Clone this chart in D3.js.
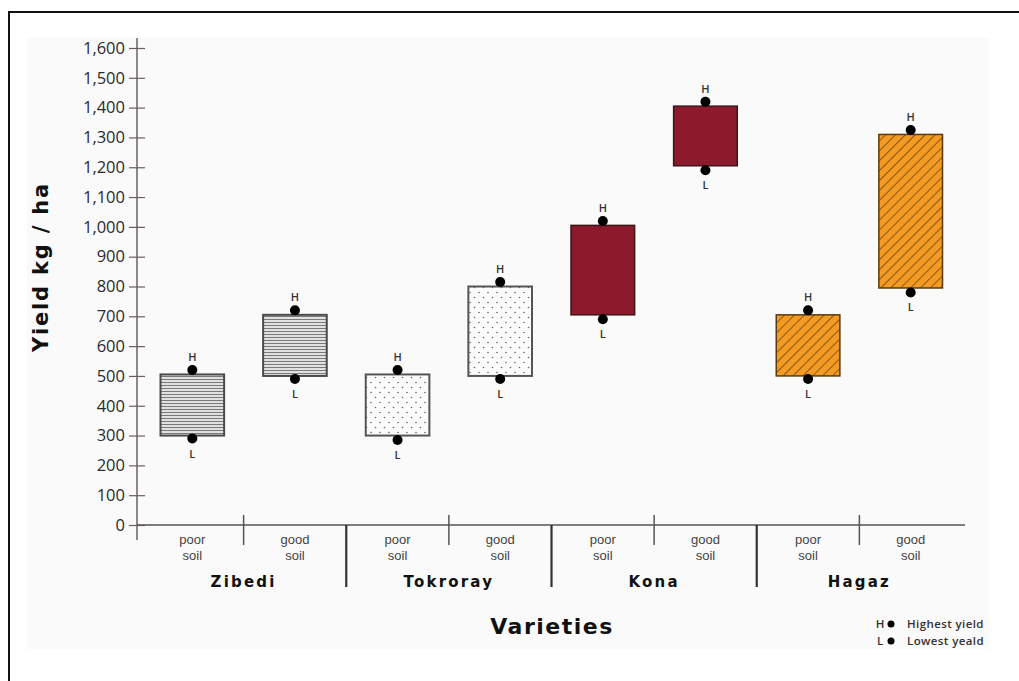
<!DOCTYPE html>
<html><head><meta charset="utf-8">
<script src="https://cdn.jsdelivr.net/npm/d3@7"></script>
<style>body{margin:0;background:#fff}svg{display:block}</style>
</head><body>
<svg id="c" width="1019" height="681"></svg>
<script>
const varieties = ["Zibedi","Tokroray","Kona","Hagaz"];
const soils = ["poor","good"];
const boxLow   = [300, 500, 300, 500, 705, 1205, 500, 795];
const boxHigh  = [505, 705, 505, 800, 1005, 1405, 705, 1310];
const highYield = [520, 720, 520, 815, 1020, 1420, 720, 1325];
const lowYield  = [290, 490, 285, 490, 690, 1190, 490, 780];
const yTicks = d3.range(0, 1601, 100);

const svg = d3.select("#c");
svg.append("rect").attr("x",9).attr("y",12).attr("width",1040).attr("height",700)
  .attr("fill","#fff").attr("stroke","#111").attr("stroke-width",2);
svg.append("rect").attr("x",27).attr("y",38).attr("width",963).attr("height",611).attr("fill","#fafafa");

const defs = svg.append("defs");
const p1 = defs.append("pattern").attr("id","stripes").attr("patternUnits","userSpaceOnUse").attr("width",6).attr("height",3);
p1.append("rect").attr("width",6).attr("height",3).attr("fill","#f4f4f4");
p1.append("line").attr("x1",0).attr("x2",6).attr("y1",1.5).attr("y2",1.5).attr("stroke","#7a7a7a").attr("stroke-width",1.3);
const p2 = defs.append("pattern").attr("id","dots").attr("patternUnits","userSpaceOnUse").attr("width",9).attr("height",10);
p2.append("rect").attr("width",9).attr("height",10).attr("fill","#fbfbfb");
p2.append("circle").attr("cx",2).attr("cy",2.5).attr("r",0.8).attr("fill","#666");
p2.append("circle").attr("cx",6.5).attr("cy",7.5).attr("r",0.8).attr("fill","#666");
const p3 = defs.append("pattern").attr("id","hatch").attr("patternUnits","userSpaceOnUse").attr("width",7).attr("height",7)
  .attr("patternTransform","rotate(45)");
p3.append("rect").attr("width",7).attr("height",7).attr("fill","#f39a22");
p3.append("line").attr("x1",0).attr("x2",0).attr("y1",0).attr("y2",7).attr("stroke","#5a3a12").attr("stroke-width",1.4);

const fills = {Zibedi:"url(#stripes)", Tokroray:"url(#dots)", Kona:"#8c1a2c", Hagaz:"url(#hatch)"};
const strokes = {Zibedi:"#4a4a4a", Tokroray:"#555", Kona:"#3d1518", Hagaz:"#5a3a12"};

const data = [];
varieties.forEach((v,i)=>soils.forEach((s,j)=>{
  const k=i*2+j;
  data.push({key:v+"-"+s, variety:v, soil:s, lo:boxLow[k], hi:boxHigh[k], H:highYield[k], L:lowYield[k]});
}));

const y = d3.scaleLinear().domain([0,1600]).range([525,48]);
const x = d3.scaleBand().domain(data.map(d=>d.key)).range([141,962]).paddingInner(0);
const bw = x.bandwidth()*0.62;

const ya = svg.append("g").attr("transform","translate(137,0)")
  .call(d3.axisLeft(y).tickValues(yTicks).tickFormat(d3.format(",")).tickSize(8).tickPadding(4));
ya.select(".domain").remove();
ya.selectAll(".tick line").attr("x1",8).attr("stroke","#6b5f5f").attr("stroke-width",1.2);
ya.selectAll(".tick text").attr("font-family","'Open Sans', sans-serif").attr("font-size",16.5).attr("fill","#2a2a2a");
svg.append("line").attr("x1",137).attr("x2",137).attr("y1",y(1600)-10).attr("y2",y(0)+15)
  .attr("stroke","#6b5f5f").attr("stroke-width",1.5);

svg.append("line").attr("x1",137).attr("x2",965).attr("y1",y(0)).attr("y2",y(0)).attr("stroke","#555").attr("stroke-width",1.5);
data.forEach((d,i)=>{
  if(i===0) return;
  const xx = x(d.key);
  if(d.soil==="good"){
    svg.append("line").attr("x1",xx).attr("x2",xx).attr("y1",y(0)-10).attr("y2",y(0)+20).attr("stroke","#555").attr("stroke-width",1.5);
  } else {
    svg.append("line").attr("x1",xx).attr("x2",xx).attr("y1",y(0)).attr("y2",y(0)+62).attr("stroke","#333").attr("stroke-width",2.2);
  }
});
const sub = svg.append("g").attr("font-family","'Liberation Sans', Arial, sans-serif").attr("font-size",13).attr("fill","#444").attr("text-anchor","middle");
data.forEach(d=>{
  const cx = x(d.key)+x.bandwidth()/2;
  sub.append("text").attr("x",cx).attr("y",y(0)+19).text(d.soil);
  sub.append("text").attr("x",cx).attr("y",y(0)+35).text("soil");
});
varieties.forEach(v=>{
  const cx = x(v+"-poor")+x.bandwidth();
  svg.append("text").attr("x",cx).attr("y",y(0)+62).attr("text-anchor","middle")
    .attr("font-family","'DejaVu Sans', sans-serif").attr("font-weight","bold").attr("font-size",15)
    .attr("letter-spacing",2.2).attr("fill","#111").text(v);
});

const g = svg.append("g");
data.forEach(d=>{
  const cx = x(d.key)+x.bandwidth()/2;
  g.append("rect").attr("x",cx-bw/2).attr("y",y(d.hi)).attr("width",bw).attr("height",y(d.lo)-y(d.hi))
    .attr("fill",fills[d.variety]).attr("stroke",strokes[d.variety]).attr("stroke-width",d.variety==="Kona"||d.variety==="Hagaz"?1.5:2);
  g.append("circle").attr("cx",cx).attr("cy",y(d.H)).attr("r",5).attr("fill","#000");
  g.append("circle").attr("cx",cx).attr("cy",y(d.L)).attr("r",5).attr("fill","#000");
  g.append("text").attr("x",cx).attr("y",y(d.H)-9).attr("text-anchor","middle").attr("font-family","'Open Sans', sans-serif")
    .attr("font-weight",600).attr("font-size",11).attr("fill","#333").text("H");
  g.append("text").attr("x",cx).attr("y",y(d.L)+19).attr("text-anchor","middle").attr("font-family","'Open Sans', sans-serif")
    .attr("font-weight",600).attr("font-size",11).attr("fill","#333").text("L");
});

svg.append("text").attr("transform","translate(48,267) rotate(-90)").attr("text-anchor","middle")
  .attr("font-family","'DejaVu Sans', sans-serif").attr("font-weight","bold").attr("font-size",21)
  .attr("letter-spacing",1.8).attr("fill","#111").text("Yield kg / ha");
svg.append("text").attr("x",552).attr("y",634).attr("text-anchor","middle")
  .attr("font-family","'DejaVu Sans', sans-serif").attr("font-weight","bold").attr("font-size",22)
  .attr("letter-spacing",1.5).attr("fill","#111").text("Varieties");

const leg = svg.append("g").attr("font-family","'Open Sans', sans-serif").attr("font-weight",600).attr("font-size",11.5).attr("fill","#333");
[["H","Highest yield",628],["L","Lowest yeald",645]].forEach(r=>{
  leg.append("text").attr("x",880).attr("y",r[2]).attr("text-anchor","middle").text(r[0]);
  leg.append("circle").attr("cx",891).attr("cy",r[2]-4).attr("r",3.5).attr("fill","#000");
  leg.append("text").attr("x",907).attr("y",r[2]).attr("letter-spacing",0.4).text(r[1]);
});
</script>
</body></html>
